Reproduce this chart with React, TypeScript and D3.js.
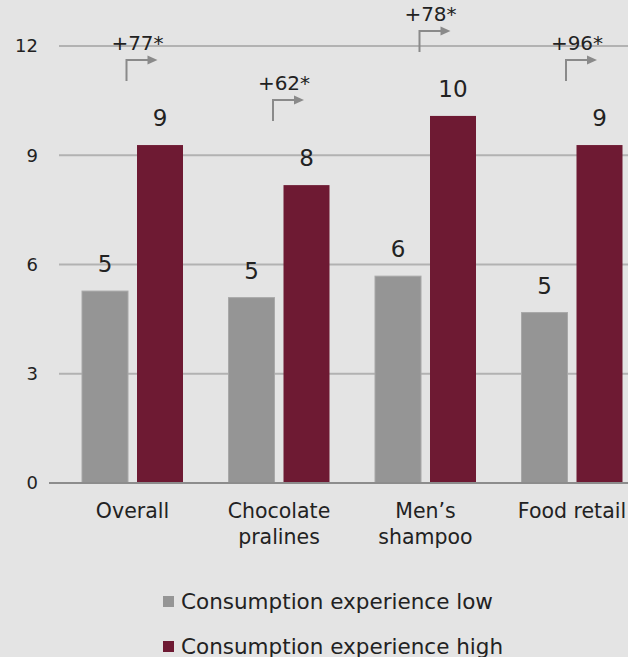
import React from "react";
import * as d3 from "d3";

const categories = [["Overall"], ["Chocolate", "pralines"], ["Men’s", "shampoo"], ["Food retail"]];
const lowValues = [5.27, 5.09, 5.68, 4.68];
const highValues = [9.28, 8.18, 10.08, 9.28];
const lowLabels = ["5", "5", "6", "5"];
const highLabels = ["9", "8", "10", "9"];
const changeLabels = ["+77*", "+62*", "+78*", "+96*"];
const yTicks = [0, 3, 6, 9, 12];
const seriesNames = ["Consumption experience low", "Consumption experience high"];

const W = 628;
const H = 657;
const FONT = "'DejaVu Sans', sans-serif";
const BG = "#e4e4e4";
const GRAY = "#959595";
const RED = "#6e1a33";

export default function App() {
  const x = d3.scaleBand<number>().domain(d3.range(categories.length)).range([59.25, 645.25]).paddingInner(0).paddingOuter(0);
  const y = d3.scaleLinear().domain([0, 12]).range([483, 46]);
  const barW = 46;
  const gap = 9;

  return (
    <svg width={W} height={H} style={{ position: "absolute", left: 0, top: 0, background: BG }} fontFamily={FONT}>
      <rect x={0} y={0} width={W} height={H} fill={BG} />
      {yTicks.filter((t) => t > 0).map((t) => (
        <line key={t} x1={59} x2={W} y1={y(t)} y2={y(t)} stroke="#b2b2b2" strokeWidth={2} />
      ))}
      {yTicks.map((t) => (
        <text key={"l" + t} x={38} y={y(t)} dy="0.35em" textAnchor="end" fontSize={18} fill="#222">
          {t}
        </text>
      ))}
      {categories.map((c, i) => {
        const cx = (x(i) as number) + x.bandwidth() / 2;
        const gx = cx - gap / 2 - barW;
        const rx = cx + gap / 2;
        const yh = y(highValues[i]);
        const arrowX = cx - 6;
        const arrowBottom = yh - 64;
        const arrowTop = arrowBottom - 21;
        return (
          <g key={i}>
            <rect x={gx} y={y(lowValues[i])} width={barW} height={y(0) - y(lowValues[i])} fill={GRAY} stroke="#a8a8a8" strokeWidth={1} />
            <rect x={rx} y={yh} width={barW} height={y(0) - yh} fill={RED} />
            <text x={gx + barW / 2} y={y(lowValues[i]) - 19} textAnchor="middle" fontSize={23} fill="#222">
              {lowLabels[i]}
            </text>
            <text x={rx + barW / 2} y={yh - 19} textAnchor="middle" fontSize={23} fill="#222">
              {highLabels[i]}
            </text>
            <path d={`M${arrowX},${arrowBottom}V${arrowTop}H${arrowX + 22}`} fill="none" stroke="#8a8a8a" strokeWidth={2} />
            <path d={`M${arrowX + 21},${arrowTop - 4.5}L${arrowX + 31},${arrowTop}L${arrowX + 21},${arrowTop + 4.5}Z`} fill="#8a8a8a" />
            <text x={cx + 5} y={arrowTop - 17} dy="0.35em" textAnchor="middle" fontSize={20} fill="#222">
              {changeLabels[i]}
            </text>
            {c.map((line, j) => (
              <text key={j} x={cx} y={511 + j * 26} dy="0.35em" textAnchor="middle" fontSize={20.5} fill="#222">
                {line}
              </text>
            ))}
          </g>
        );
      })}
      <line x1={49} x2={W} y1={y(0)} y2={y(0)} stroke="#8c8c8c" strokeWidth={2} />
      {seriesNames.map((s, i) => (
        <g key={s}>
          <rect x={163} y={596 + i * 45} width={11} height={11} fill={i === 0 ? GRAY : RED} />
          <text x={181} y={601.5 + i * 45} dy="0.35em" fontSize={21.5} fill="#222">
            {s}
          </text>
        </g>
      ))}
    </svg>
  );
}
